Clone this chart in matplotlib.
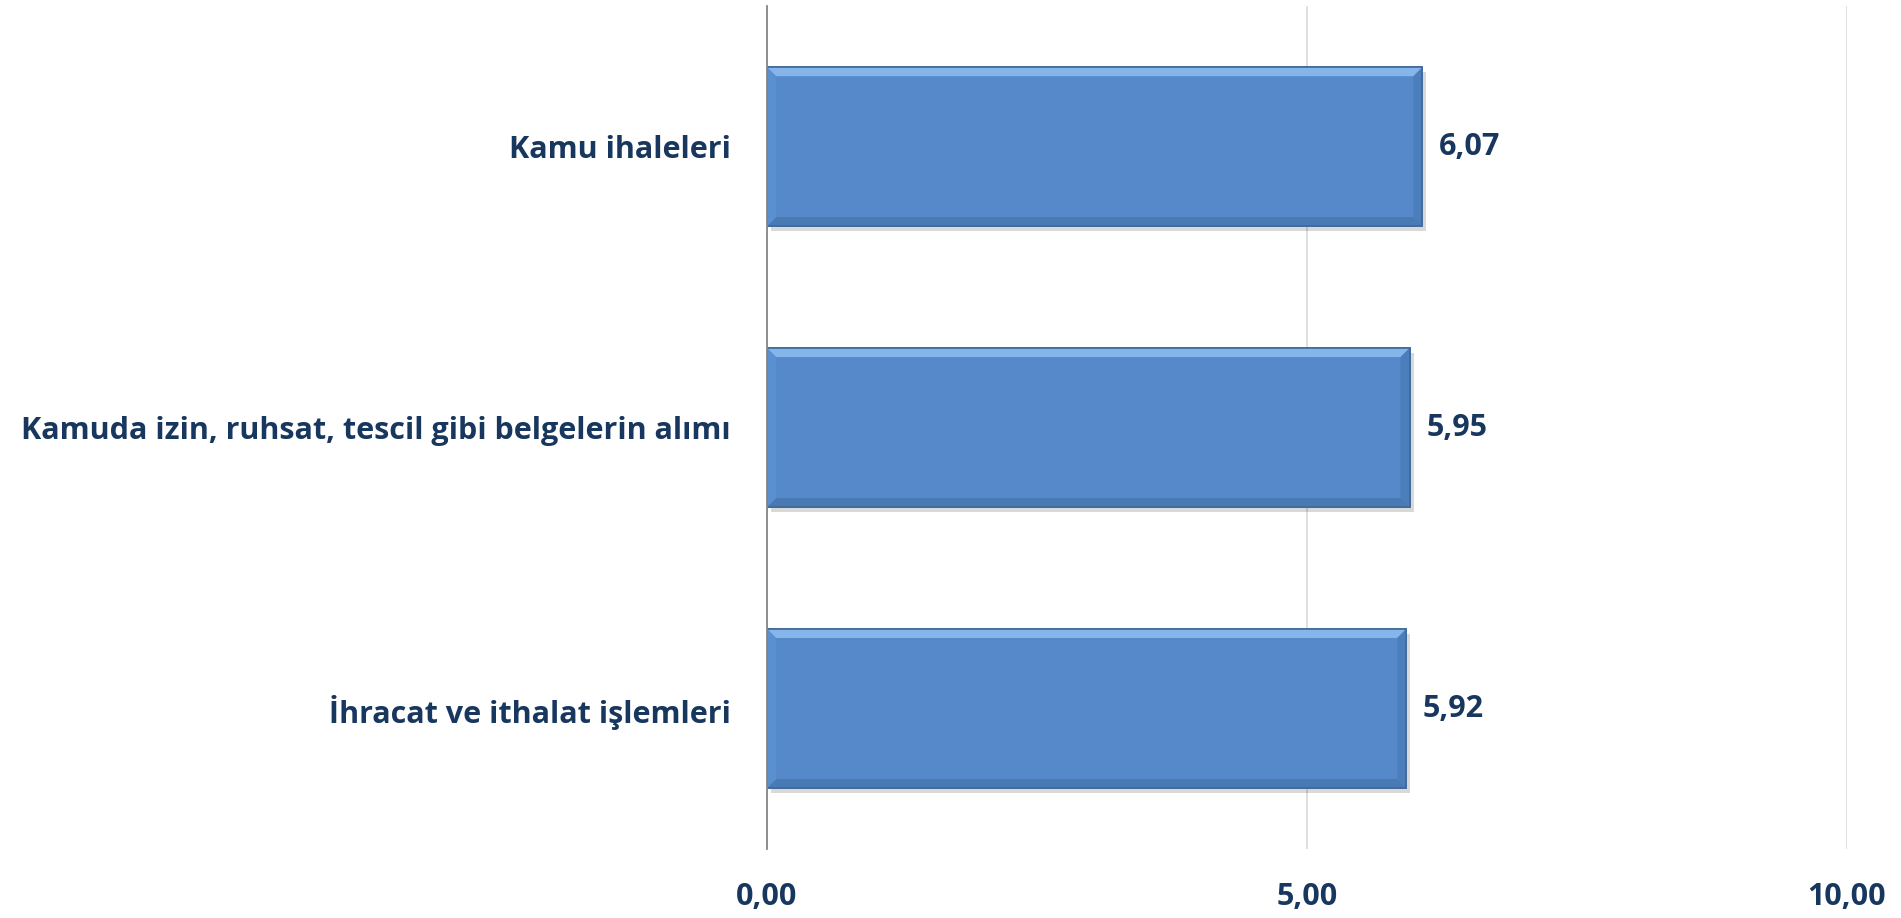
import matplotlib
matplotlib.use("Agg")
import matplotlib.pyplot as plt
from matplotlib.patches import Polygon
import numpy as np

categories = ["Kamu ihaleleri",
              "Kamuda izin, ruhsat, tescil gibi belgelerin alımı",
              "İhracat ve ithalat işlemleri"]
values = [6.07, 5.95, 5.92]
xticks = [0, 5, 10]
xtick_labels = ["0,00", "5,00", "10,00"]

navy = "#17375E"
bar_color = "#5589C9"
font = ["Open Sans", "DejaVu Sans"]
fs = 22

fig = plt.figure(figsize=(19.01, 9.18), dpi=100)
ax = fig.add_axes([0.4035, 0.0752, 0.568, 0.918])

ypos = np.arange(len(categories))
bars = ax.barh(ypos, values, height=0.566, color=bar_color,
               edgecolor="#41699A", linewidth=1.2, zorder=3)
ax.set_ylim(len(categories) - 0.5, -0.5)
ax.set_xlim(0, 10)

# bevel / shadow effect
fig.canvas.draw()
inv = ax.transData.inverted()
def px2data(dx, dy):
    p0 = inv.transform((0, 0)); p1 = inv.transform((dx, dy))
    return abs(p1[0] - p0[0]), abs(p1[1] - p0[1])
bx, by = px2data(9, 9)
sx, sy = px2data(4, 5)
for b in bars:
    x0, y0 = b.get_x(), b.get_y()
    w, h = b.get_width(), b.get_height()
    x1, y1 = x0 + w, y0 + h   # y0 top (inverted axis), y1 bottom
    ax.add_patch(plt.Rectangle((x0 + sx, y0 + sy), w, h, color="#000000",
                               alpha=0.15, zorder=2, lw=0))
    ax.add_patch(Polygon([(x0, y0), (x1, y0), (x1 - bx, y0 + by), (x0 + bx, y0 + by)],
                         closed=True, color="#86B5EC", lw=0, zorder=4))
    ax.add_patch(Polygon([(x0, y1), (x1, y1), (x1 - bx, y1 - by), (x0 + bx, y1 - by)],
                         closed=True, color="#4A7AB4", lw=0, zorder=4))
    ax.add_patch(Polygon([(x1, y0), (x1, y1), (x1 - bx, y1 - by), (x1 - bx, y0 + by)],
                         closed=True, color="#4C7EBB", lw=0, zorder=4))
    ax.add_patch(Polygon([(x0, y0), (x0, y1), (x0 + bx, y1 - by), (x0 + bx, y0 + by)],
                         closed=True, color="#5B90D0", lw=0, zorder=4))
    ax.add_patch(plt.Rectangle((x0, y0), w, h, fill=False, edgecolor="#41699A",
                               lw=1.2, zorder=5))

for yv, v in zip(ypos, values):
    ax.annotate(f"{v:.2f}".replace(".", ","), (v, yv), xytext=(12, 0),
                textcoords="offset points", va="center", ha="left",
                fontsize=fs, fontweight="bold", color=navy, family=font)

ax.set_yticks(ypos)
ax.set_yticklabels(categories, fontsize=fs, fontweight="bold", color=navy, family=font)
ax.set_xticks(xticks)
ax.set_xticklabels(xtick_labels, fontsize=fs, fontweight="bold", color=navy, family=font)
ax.tick_params(axis="both", length=0)
ax.tick_params(axis="y", pad=26)
ax.tick_params(axis="x", pad=24)

ax.grid(axis="x", color="#D9D9D9", lw=1.2, zorder=0)
for s in ["top", "right", "bottom"]:
    ax.spines[s].set_visible(False)
ax.spines["left"].set_color("#868686")
ax.spines["left"].set_linewidth(1.3)
ax.spines["left"].set_zorder(6)

fig.savefig("out.png", dpi=100, facecolor="white")
